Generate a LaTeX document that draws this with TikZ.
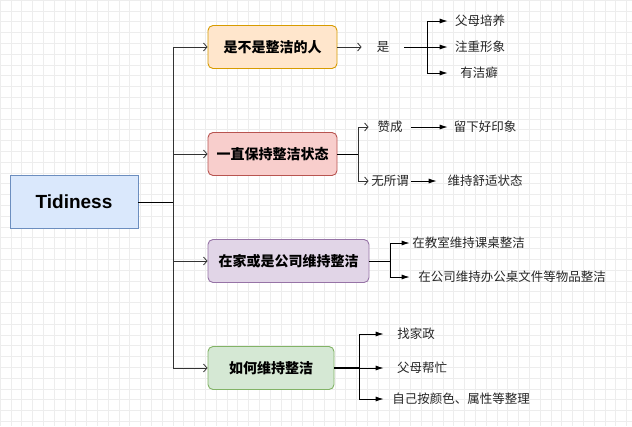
\documentclass[tikz,border=0pt]{standalone}
\usepackage{fontspec}
\setmainfont{Liberation Sans}
\newfontfamily\cjk{Noto Sans CJK SC}
\usetikzlibrary{arrows.meta,positioning}
\definecolor{rootfill}{HTML}{DAE8FC}\definecolor{rootline}{HTML}{6C8EBF}
\definecolor{orfill}{HTML}{FFE6CC}\definecolor{orline}{HTML}{D79B00}
\definecolor{redfill}{HTML}{F8CECC}\definecolor{redline}{HTML}{B85450}
\definecolor{purfill}{HTML}{E1D5E7}\definecolor{purline}{HTML}{9673A6}
\definecolor{grnfill}{HTML}{D5E8D4}\definecolor{grnline}{HTML}{82B366}

\begin{document}
\begin{tikzpicture}[x=1pt,y=-1pt,line width=0.8pt,
  cat/.style={draw,rounded corners=5pt,line width=0.9pt,inner sep=0pt,minimum height=43pt,
    font=\cjk\bfseries\fontsize{14}{17}\selectfont},
  leaf/.style={inner sep=0pt,minimum height=16pt,text=black!85,font=\cjk\fontsize{12.5}{15}\selectfont},
  openarr/.style={-{Straight Barb[length=3.5pt,width=8pt]},draw=black!80},
  fillarr/.style={-{Latex[length=8pt,width=5pt]}}]
\useasboundingbox (0,0) rectangle (632,426);
\fill[white] (0,0) rectangle (632,426);
% grid
\foreach \i in {0,...,58}{
  \draw[black!7,line width=0.5pt] (\i*10.8,0) -- (\i*10.8,426);}
\foreach \i in {0,...,39}{
  \draw[black!7,line width=0.5pt] (0,\i*10.8) -- (632,\i*10.8);}

\node[draw=rootline,fill=rootfill,line width=0.9pt,minimum width=128pt,minimum height=53pt,
  font=\bfseries\fontsize{19}{22}\selectfont] (root) at (74,202) {Tidiness};
\node[cat,draw=orline,fill=orfill,minimum width=129pt] (b1) at (272.5,47) {是不是整洁的人};
\node[cat,draw=redline,fill=redfill,minimum width=129pt] (b2) at (272.5,154) {一直保持整洁状态};
\node[cat,draw=purline,fill=purfill,minimum width=161pt] (b3) at (288.5,261) {在家或是公司维持整洁};
\node[cat,draw=grnline,fill=grnfill,minimum width=126pt] (b4) at (271,368) {如何维持整洁};

\coordinate (t) at (173,202);
\draw (root.east) -- (t);
\foreach \b in {b1,b2,b3,b4}
  \draw[openarr] (t) |- (\b.west);

% first branch
\node[leaf,minimum width=42pt] (yes) at (383,47) {是};
\node[leaf,minimum width=64pt] (parent) at (480,21) {父母培养};
\node[leaf,minimum width=64pt] (image) at (480,47) {注重形象};
\node[leaf,minimum width=62pt] (clean) at (479,73) {有洁癖};
\coordinate (j1) at (427,47);
\draw[openarr] (b1.east) -- (yes.west);
\draw (yes.east) -- (j1);
\foreach \l in {parent,image,clean}
  \draw[fillarr] (j1) |- (\l.west);

% second branch
\node[leaf,minimum width=42pt] (agree) at (390,127) {赞成};
\node[leaf,minimum width=42pt] (whatever) at (390,181) {无所谓};
\node[leaf,minimum width=74pt] (impress) at (485,127) {留下好印象};
\node[leaf,minimum width=96pt] (comfort) at (485,181) {维持舒适状态};
\coordinate (j2) at (358,154);
\draw (b2.east) -- (j2);
\draw[openarr] (j2) |- (agree.west);
\draw[openarr] (j2) |- (whatever.west);
\draw[fillarr] (agree.east) -- (impress.west);
\draw[fillarr] (whatever.east) -- (comfort.west);

% third branch
\node[leaf,minimum width=117pt] (desk) at (468.5,243) {在教室维持课桌整洁};
\node[leaf,minimum width=204pt] (office) at (512,277) {在公司维持办公桌文件等物品整洁};
\coordinate (j3) at (390,261);
\draw (b3.east) -- (j3);
\draw[fillarr] (j3) |- (desk.west);
\draw[fillarr] (j3) |- (office.west);

% fourth branch
\node[leaf,minimum width=64pt] (maid) at (416,334) {找家政};
\node[leaf,minimum width=76pt] (help) at (422,368) {父母帮忙};
\node[leaf,minimum width=154pt] (self) at (461,399) {自己按颜色、属性等整理};
\coordinate (j4) at (359,368);
\draw[line width=1.5pt] (b4.east) -- (j4);
\foreach \l in {maid,help,self}
  \draw[fillarr] (j4) |- (\l.west);
\end{tikzpicture}
\end{document}
